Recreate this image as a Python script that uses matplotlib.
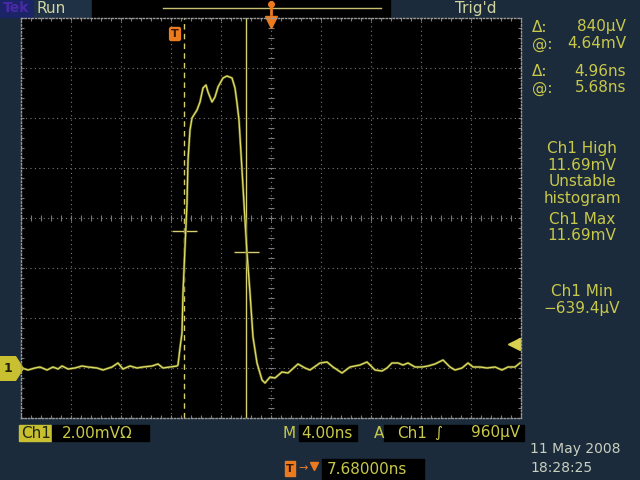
import numpy as np
import matplotlib
matplotlib.use("Agg")
import matplotlib.pyplot as plt
from matplotlib.patches import Rectangle
from matplotlib.transforms import blended_transform_factory

# scope settings
ns_per_div = 4.0
mv_per_div = 2.0
center_time = 7.68          # trigger -> center delay (ns)
center_level = 6.0          # mV at the middle graticule line (ground 3 div below)
trig_level = 0.96           # mV
cursor_t = [0.72, 5.68]     # ns
cursor_v = [5.48, 4.64]     # mV

# Ch1 trace (ns, mV)
time_ns = [-12.24, -11.76, -11.20, -10.80, -10.24, -9.76, -9.36, -9.04, -8.56, -8.00,
           -7.44, -6.96, -6.24, -5.76, -5.04, -4.56, -4.16, -3.60, -3.04, -2.56,
           -1.84, -1.36, -0.96, -0.40, 0.16, 0.24, 0.40, 0.56, 0.64, 0.80,
           0.96, 1.04, 1.20, 1.36, 1.76, 2.00, 2.24, 2.48, 2.64, 2.96,
           3.20, 3.44, 3.84, 4.16, 4.56, 4.80, 4.96, 5.12, 5.36, 5.60,
           5.76, 6.00, 6.24, 6.56, 6.96, 7.20, 7.60, 8.00, 8.56, 9.04,
           9.84, 10.40, 10.80, 11.60, 12.16, 12.64, 13.36, 14.00, 14.80, 15.36,
           16.00, 16.56, 16.96, 17.36, 17.84, 18.24, 18.64, 19.20, 19.76, 20.24,
           20.80, 21.44, 22.00, 22.40, 22.96, 23.44, 23.84, 24.40, 24.96, 25.60,
           26.16, 26.64, 27.20, 27.60]
volt_mv = [0.00, -0.08, 0.00, 0.04, -0.08, 0.04, -0.04, 0.08, -0.04, 0.00,
           0.08, 0.04, 0.00, -0.08, 0.04, 0.20, -0.04, 0.08, 0.00, 0.04,
           0.08, 0.16, 0.00, 0.04, 0.08, 0.12, 0.80, 1.40, 3.00, 4.84,
           6.60, 8.32, 9.52, 10.00, 10.32, 10.64, 11.20, 11.32, 11.04, 10.64,
           10.84, 11.24, 11.60, 11.68, 11.60, 11.20, 10.60, 9.92, 7.92, 5.92,
           4.60, 3.00, 1.24, 0.20, -0.48, -0.60, -0.36, -0.40, -0.16, -0.20,
           0.16, 0.00, -0.08, 0.20, 0.24, 0.04, -0.20, 0.04, 0.12, 0.24,
           -0.08, -0.12, 0.00, 0.20, 0.20, 0.12, 0.20, 0.04, 0.04, 0.08,
           0.16, 0.32, 0.04, -0.08, 0.00, 0.20, 0.04, 0.04, 0.00, 0.04,
           -0.08, 0.04, 0.04, 0.20]

readout_right = [("Δ:", "840µV"), ("@:", "4.64mV"), ("Δ:", "4.96ns"), ("@:", "5.68ns")]
meas_lines = ["Ch1 High", "11.69mV", "Unstable", "histogram", "Ch1 Max", "11.69mV",
              "Ch1 Min", "−639.4µV"]

BG = "#1b2b3b"
TXT = "#c8c84a"
TRACE = "#dede62"
ORANGE = "#ec7a1e"
GRID = "#7a7a7a"

plt.rcParams["font.family"] = ["DejaVu Sans"]
fig = plt.figure(figsize=(6.4, 4.8), dpi=100, facecolor=BG)

# screen chrome in pixel coordinates
ui = fig.add_axes([0, 0, 1, 1], zorder=0)
ui.set_xlim(0, 640)
ui.set_ylim(480, 0)
ui.axis("off")
ui.set_facecolor(BG)

ui.add_patch(Rectangle((0, 0), 34, 17, color="#1a2466"))
ui.text(3, 8.5, "Tek", color="#4a2aa8", fontsize=10, fontweight="bold", va="center")
ui.add_patch(Rectangle((34, 0), 58, 17, color="#1f3144"))
ui.text(36, 8.5, "Run", color="#d0d4a0", fontsize=11, va="center")
ui.add_patch(Rectangle((92, 0), 298, 17, color="black"))
ui.plot([163, 381], [8, 8], color="#c8c070", lw=1)
ui.plot([271, 271], [2, 14], color=ORANGE, lw=2)
ui.plot(271, 4, marker="o", ms=4, color=ORANGE)
ui.text(455, 8.5, "Trig'd", color="#d0d4a0", fontsize=11, va="center")

# right-hand readouts
for i, (lab, val) in enumerate(readout_right):
    y = [27, 44, 71, 88][i]
    ui.text(532, y, lab, color=TXT, fontsize=11, va="center")
    ui.text(626, y, val, color=TXT, fontsize=11, va="center", ha="right")
for txt, y in zip(meas_lines, [149, 166, 182, 199, 219, 236, 291, 308]):
    ui.text(582, y, txt, color=TXT, fontsize=11, va="center", ha="center")

# bottom status line
ui.add_patch(Rectangle((19, 425), 32, 16, color="#c8c030"))
ui.text(21, 433, "Ch1", color="#202810", fontsize=11, va="center")
ui.add_patch(Rectangle((52, 425), 97, 16, color="black"))
ui.text(62, 433, "2.00mVΩ", color=TXT, fontsize=11, va="center")
ui.text(283, 433, "M", color=TXT, fontsize=11, va="center")
ui.add_patch(Rectangle((299, 425), 58, 16, color="black"))
ui.text(301, 433, "4.00ns", color=TXT, fontsize=11, va="center")
ui.text(374, 433, "A", color=TXT, fontsize=11, va="center")
ui.add_patch(Rectangle((384, 425), 140, 16, color="black"))
ui.text(397, 433, "Ch1", color=TXT, fontsize=11, va="center")
ui.text(434, 433, "∫", color=TXT, fontsize=11, va="center")
ui.text(520, 433, "960µV", color=TXT, fontsize=11, va="center", ha="right")

ui.add_patch(Rectangle((285, 461), 10, 15, color=ORANGE))
ui.text(290, 468.5, "T", color="#3a1800", fontsize=8, fontweight="bold", va="center", ha="center")
ui.text(303, 468.5, "→", color=ORANGE, fontsize=8, va="center", ha="center")
ui.plot(314, 466, marker="v", ms=6, color=ORANGE)
ui.add_patch(Rectangle((322, 459), 102, 21, color="black"))
ui.text(327, 469, "7.68000ns", color=TXT, fontsize=11, va="center")

ui.text(530, 449, "11 May 2008", color="#c8d0c0", fontsize=10, va="center")
ui.text(530, 468, "18:28:25", color="#c8d0c0", fontsize=10, va="center")

# graticule
ax = fig.add_axes([21 / 640, 62 / 480, 500 / 640, 400 / 480], zorder=1)
ax.set_facecolor("black")
x0, x1 = center_time - 5 * ns_per_div, center_time + 5 * ns_per_div
y0, y1 = center_level - 4 * mv_per_div, center_level + 4 * mv_per_div
ax.set_xlim(x0, x1)
ax.set_ylim(y0, y1)
ax.set_xticks([])
ax.set_yticks([])
for s in ax.spines.values():
    s.set_color("#9a9a9a")
    s.set_linestyle((0, (1, 1.5)))
    s.set_linewidth(1)

for k in range(-4, 5):
    ax.axvline(center_time + k * ns_per_div, color=GRID, lw=0.8, ls=(0, (1, 3)))
for k in range(-3, 4):
    ax.axhline(center_level + k * mv_per_div, color=GRID, lw=0.8, ls=(0, (1, 3)))
minor_t = center_time + np.arange(-25, 26) * ns_per_div / 5
minor_v = center_level + np.arange(-20, 21) * mv_per_div / 5
ax.plot(minor_t, np.full_like(minor_t, center_level), ls="none", marker="|", ms=5, color=GRID, mew=0.8)
ax.plot(np.full_like(minor_v, center_time), minor_v, ls="none", marker="_", ms=5, color=GRID, mew=0.8)
ax.plot(minor_t, np.full_like(minor_t, y0), ls="none", marker="|", ms=5, color=GRID, mew=0.8)
ax.plot(minor_t, np.full_like(minor_t, y1), ls="none", marker="|", ms=5, color=GRID, mew=0.8)
ax.plot(np.full_like(minor_v, x0), minor_v, ls="none", marker="_", ms=5, color=GRID, mew=0.8)
ax.plot(np.full_like(minor_v, x1), minor_v, ls="none", marker="_", ms=5, color=GRID, mew=0.8)

# cursors
ax.axvline(cursor_t[0], color="#d8d070", lw=1, ls=(0, (4, 3)))
ax.axvline(cursor_t[1], color="#d8d070", lw=1)
ax.plot(cursor_t, cursor_v, ls="none", marker="_", ms=18, mew=1, color="#d8d070")

# waveform (faint persistence underneath)
ax.plot(time_ns, volt_mv, color="#5e5e22", lw=1.8, solid_joinstyle="round")
ax.plot(time_ns, volt_mv, color=TRACE, lw=0.9, solid_joinstyle="round")

# markers around the graticule
bt = blended_transform_factory(ax.transAxes, ax.transData)
pent = [(-1, 1), (0.35, 1), (1, 0), (0.35, -1), (-1, -1)]
ax.plot(-0.021, 0.0, marker=pent, ms=17, color="#c8c030", transform=bt, clip_on=False)
ax.text(-0.026, 0.0, "1", color="#202010", fontsize=9, fontweight="bold", ha="center",
        va="center", transform=bt, clip_on=False)
ax.plot(0.985, trig_level, marker="<", ms=8, color="#d8d050", transform=bt, clip_on=False)
ax.plot([0.985, 1.0], [trig_level, trig_level], color="#d8d050", lw=1, transform=bt)

bt2 = blended_transform_factory(ax.transData, ax.transAxes)
ax.plot(center_time, 0.99, marker="v", ms=8, color=ORANGE, transform=bt2, clip_on=False)
ax.text(0.0, 0.96, "T", color="#3a1800", fontsize=8, fontweight="bold", ha="center", va="center",
        transform=bt2, bbox=dict(boxstyle="round,pad=0.2", fc=ORANGE, ec="none"))

fig.savefig("out.png", dpi=100, facecolor=BG)
